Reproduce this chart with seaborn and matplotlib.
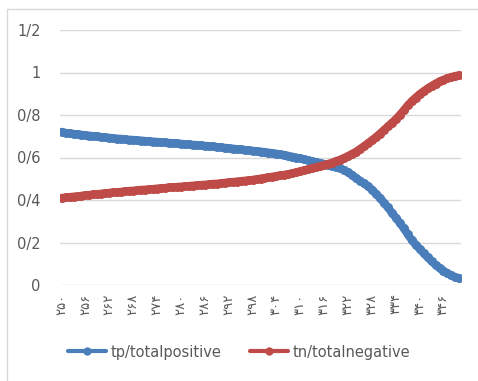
import numpy as np
import pandas as pd
import seaborn as sns
import matplotlib.pyplot as plt
from matplotlib.patches import Rectangle
from matplotlib.lines import Line2D

# thresholds 250..350
thresholds = list(range(250, 351))

tp_rate = [
    0.721, 0.716, 0.713, 0.711, 0.709, 0.707, 0.705, 0.703, 0.701, 0.699,
    0.697, 0.695, 0.693, 0.691, 0.689, 0.688, 0.686, 0.684, 0.683, 0.681,
    0.680, 0.678, 0.677, 0.675, 0.674, 0.672, 0.671, 0.669, 0.668, 0.666,
    0.665, 0.663, 0.662, 0.660, 0.659, 0.657, 0.655, 0.654, 0.652, 0.650,
    0.648, 0.646, 0.644, 0.642, 0.640, 0.638, 0.636, 0.634, 0.632, 0.630,
    0.628, 0.626, 0.623, 0.621, 0.618, 0.615, 0.612, 0.608, 0.604, 0.600,
    0.596, 0.591, 0.587, 0.582, 0.578, 0.574, 0.570, 0.566, 0.562, 0.557,
    0.550, 0.541, 0.530, 0.518, 0.504, 0.491, 0.478, 0.465, 0.449, 0.430,
    0.410, 0.388, 0.365, 0.341, 0.317, 0.293, 0.267, 0.239, 0.212, 0.190,
    0.170, 0.150, 0.130, 0.112, 0.095, 0.080, 0.067, 0.055, 0.045, 0.037,
    0.031,
]

tn_rate = [
    0.410, 0.412, 0.414, 0.416, 0.418, 0.420, 0.422, 0.424, 0.426, 0.428,
    0.430, 0.432, 0.434, 0.436, 0.437, 0.439, 0.441, 0.443, 0.444, 0.446,
    0.448, 0.449, 0.451, 0.452, 0.454, 0.456, 0.457, 0.459, 0.460, 0.462,
    0.463, 0.465, 0.466, 0.468, 0.469, 0.471, 0.472, 0.474, 0.476, 0.477,
    0.479, 0.481, 0.483, 0.485, 0.487, 0.489, 0.491, 0.493, 0.495, 0.498,
    0.501, 0.504, 0.507, 0.510, 0.513, 0.516, 0.519, 0.522, 0.526, 0.530,
    0.535, 0.540, 0.545, 0.550, 0.555, 0.560, 0.565, 0.570, 0.576, 0.583,
    0.590, 0.598, 0.607, 0.617, 0.627, 0.640, 0.653, 0.667, 0.681, 0.696,
    0.712, 0.729, 0.746, 0.763, 0.780, 0.800, 0.822, 0.845, 0.865, 0.882,
    0.898, 0.912, 0.925, 0.937, 0.948, 0.958, 0.966, 0.973, 0.979, 0.984,
    0.987,
]

y_ticks = [0, 0.2, 0.4, 0.6, 0.8, 1.0, 1.2]
y_tick_labels = ['0', '0/2', '0/4', '0/6', '0/8', '1', '1/2']
x_label_every = 6
persian_digits = '۰۱۲۳۴۵۶۷۸۹'

def to_persian(n):
    return ''.join(persian_digits[int(c)] for c in str(n))

series_names = ['tp/totalpositive', 'tn/totalnegative']
colors = ['#4a7ebb', '#be4b48']

df = pd.DataFrame({
    'pos': list(range(len(thresholds))) * 2,
    'value': tp_rate + tn_rate,
    'series': [series_names[0]] * len(thresholds) + [series_names[1]] * len(thresholds),
})

sns.set_style('white')
plt.rcParams['font.family'] = ['DejaVu Sans']

fig = plt.figure(figsize=(4.78, 3.81), dpi=100)
ax = fig.add_axes([60 / 478, 1 - 285 / 381, 401 / 478, 255 / 381])

sns.lineplot(data=df, x='pos', y='value', hue='series', palette=colors,
             marker='o', markersize=6.5, markeredgewidth=0, linewidth=5.8,
             ax=ax, legend=False)

ax.set_ylim(0, 1.2)
ax.set_xlim(-0.4, 100.4)
ax.set_yticks(y_ticks)
ax.set_yticklabels(y_tick_labels, color='#595959', fontsize=10.5)
xt = list(range(0, len(thresholds), x_label_every))
ax.set_xticks(xt)
ax.set_xticklabels([to_persian(thresholds[i]) for i in xt], rotation=90,
                   fontsize=9.5, color='#595959')
ax.tick_params(axis='both', length=0, pad=6)
ax.tick_params(axis='y', pad=14)
ax.set_xlabel('')
ax.set_ylabel('')
for s in ax.spines.values():
    s.set_visible(False)
ax.yaxis.grid(True, color='#d9d9d9', linewidth=1)
ax.set_axisbelow(True)

handles = [Line2D([0], [0], color=c, linewidth=3, marker='o', markersize=6,
                  markeredgewidth=0) for c in colors]
fig.legend(handles, series_names, loc='center', bbox_to_anchor=(0.5, 1 - 352 / 381),
           ncol=2, frameon=False, fontsize=10.5, labelcolor='#595959',
           handlelength=2.6, handletextpad=0.3, columnspacing=2.0)

fig.patches.append(Rectangle((7 / 478, -0.05), 1.1, 1 - 9 / 381 + 0.05,
                             transform=fig.transFigure, fill=False,
                             edgecolor='#d9d9d9', linewidth=1))

fig.savefig('out.png', dpi=100)
